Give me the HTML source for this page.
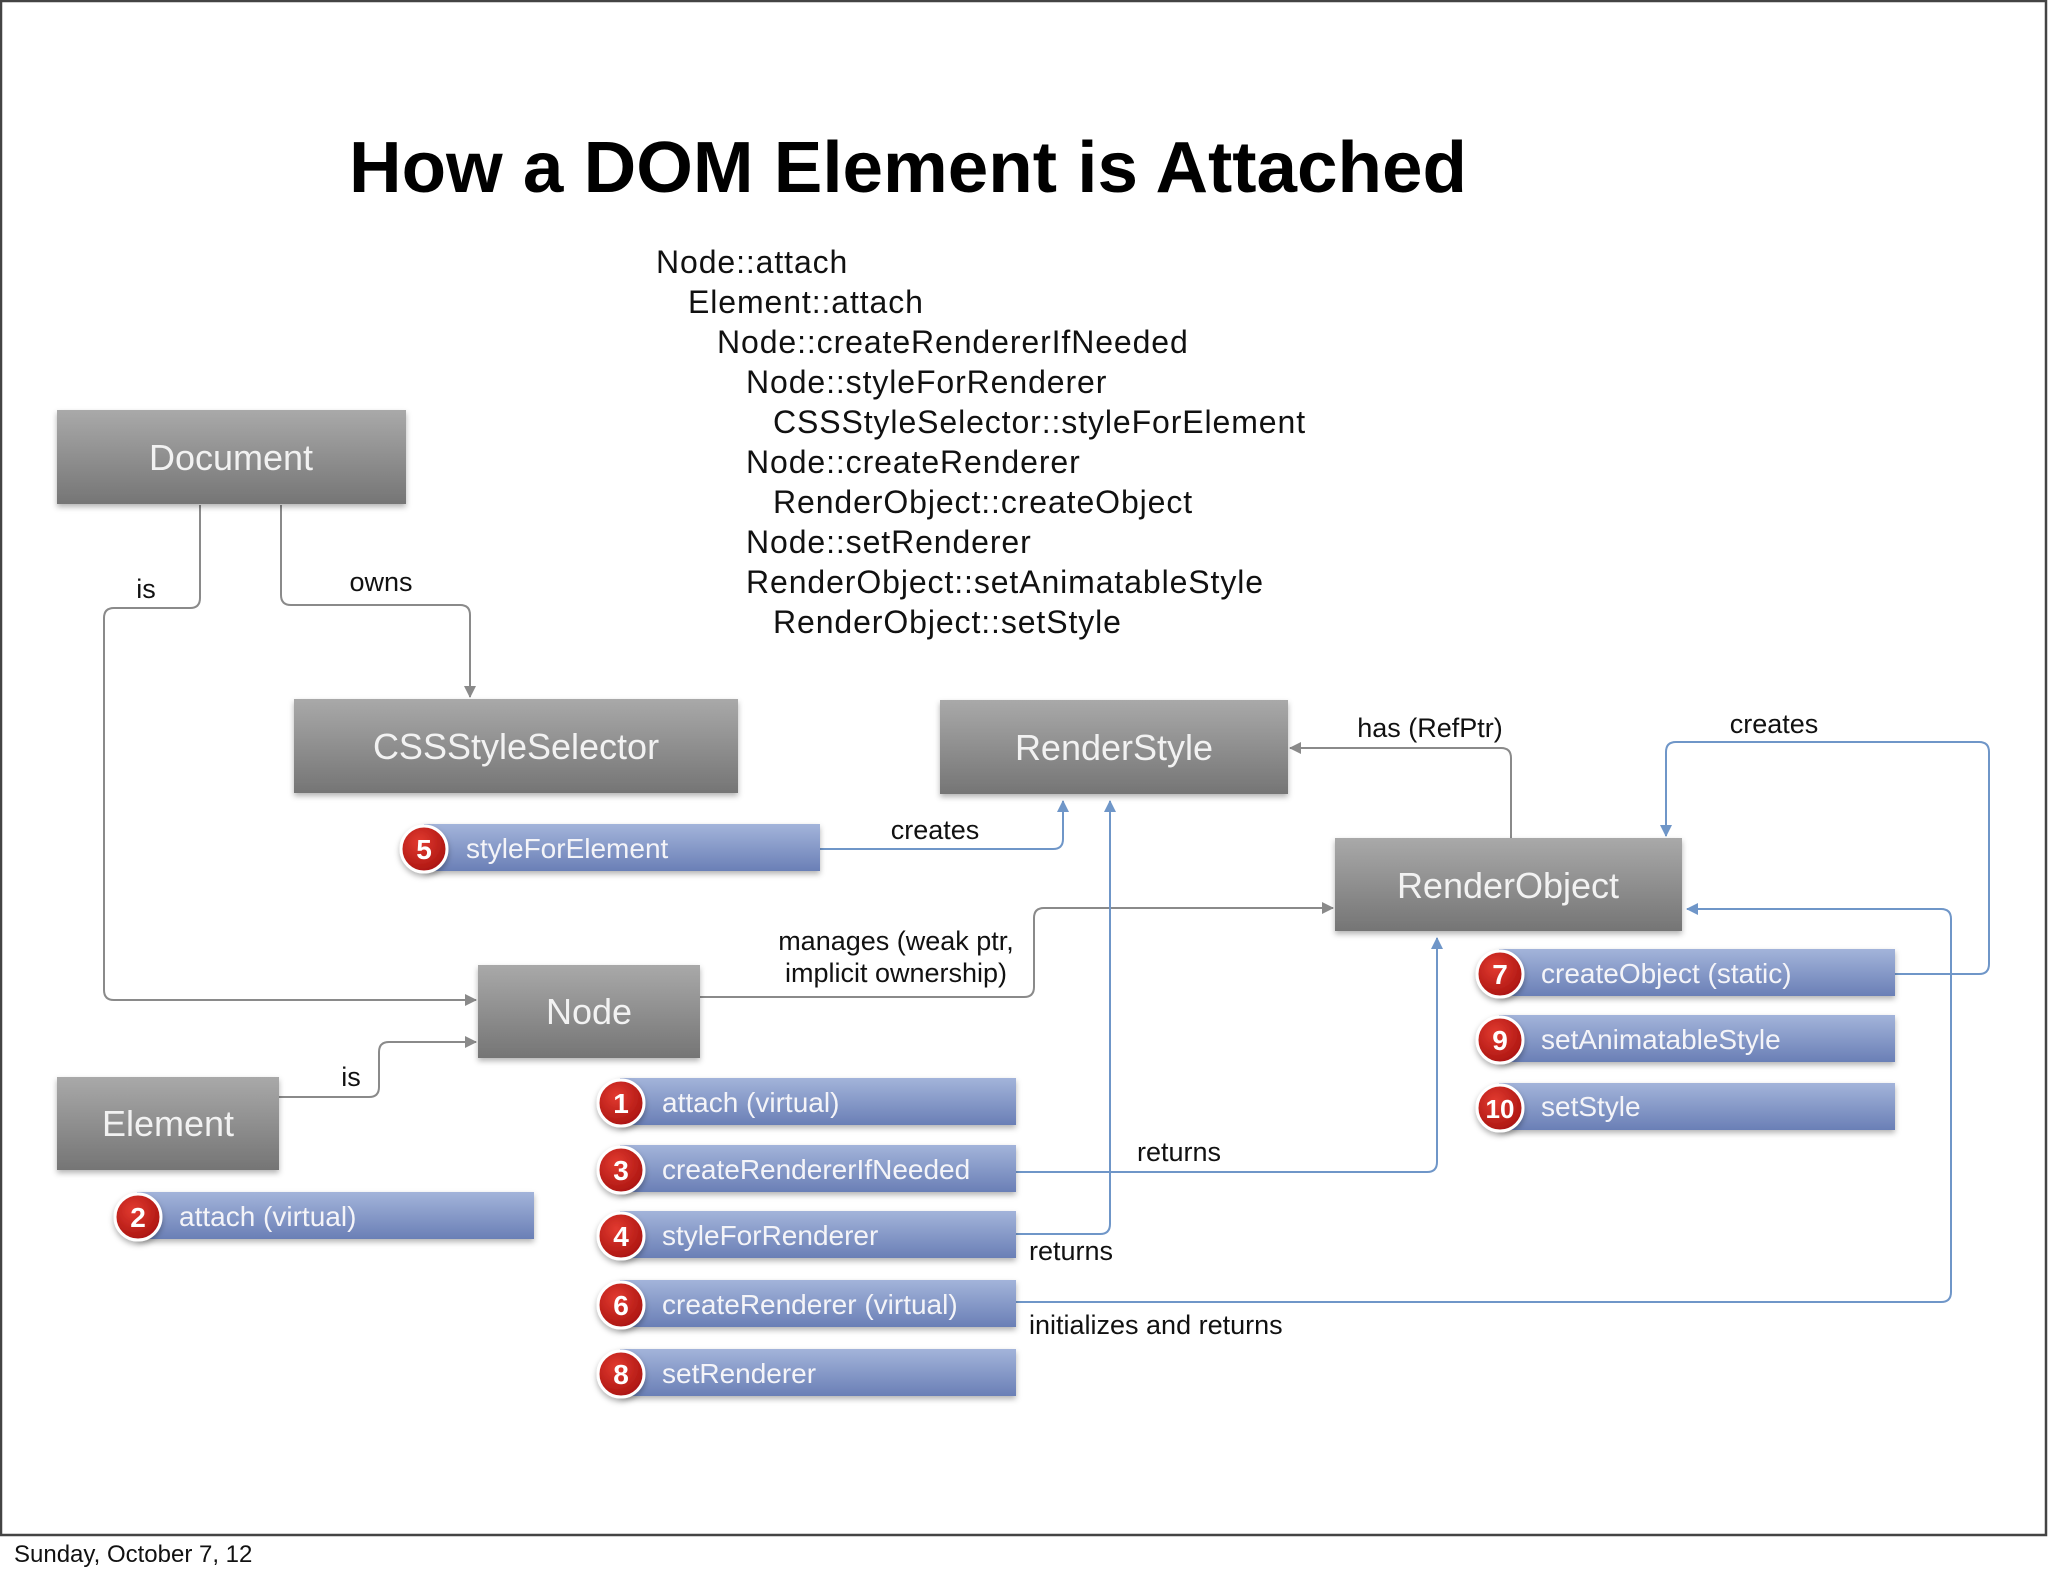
<!DOCTYPE html>
<html><head><meta charset="utf-8"><style>
html,body{margin:0;padding:0;background:#fff}
svg{display:block}
text{font-family:"Liberation Sans",Arial,sans-serif}
</style></head><body>
<svg width="2048" height="1576" viewBox="0 0 2048 1576" xmlns="http://www.w3.org/2000/svg">
<defs>
<linearGradient id="g" x1="0" y1="0" x2="0" y2="1"><stop offset="0" stop-color="#a9a9a9"/><stop offset="1" stop-color="#757575"/></linearGradient>
<linearGradient id="b" x1="0" y1="0" x2="0" y2="1"><stop offset="0" stop-color="#a3b4da"/><stop offset="1" stop-color="#6a7fb6"/></linearGradient>
<radialGradient id="r" cx="0.4" cy="0.35" r="0.7"><stop offset="0" stop-color="#e23a30"/><stop offset="1" stop-color="#a8130f"/></radialGradient>
<marker id="ag" markerWidth="12" markerHeight="12" refX="11" refY="6" orient="auto" markerUnits="userSpaceOnUse"><path d="M0,0 L12,6 L0,12 z" fill="#8a8a8a"/></marker>
<marker id="ab" markerWidth="12" markerHeight="12" refX="11" refY="6" orient="auto" markerUnits="userSpaceOnUse"><path d="M0,0 L12,6 L0,12 z" fill="#6f96c8"/></marker>
<filter id="sh" x="-20%" y="-20%" width="140%" height="160%"><feDropShadow dx="0" dy="3" stdDeviation="3" flood-color="#000" flood-opacity="0.3"/></filter>
</defs>
<rect x="1" y="1" width="2045" height="1534" fill="#fff" stroke="#444" stroke-width="2.5"/>
<text x="14" y="1562" font-size="24" fill="#111">Sunday, October 7, 12</text>

<text x="349" y="192" font-size="72" font-weight="bold" fill="#000" textLength="1118" lengthAdjust="spacingAndGlyphs">How a DOM Element is Attached</text>

<g font-size="32" fill="#111" letter-spacing="0.9">
<text x="656" y="273">Node::attach</text>
<text x="688" y="313">Element::attach</text>
<text x="717" y="353">Node::createRendererIfNeeded</text>
<text x="746" y="393">Node::styleForRenderer</text>
<text x="773" y="433">CSSStyleSelector::styleForElement</text>
<text x="746" y="473">Node::createRenderer</text>
<text x="773" y="513">RenderObject::createObject</text>
<text x="746" y="553">Node::setRenderer</text>
<text x="746" y="593">RenderObject::setAnimatableStyle</text>
<text x="773" y="633">RenderObject::setStyle</text>
</g>

<g fill="none" stroke="#8a8a8a" stroke-width="2">
<path d="M200,505 V598 Q200,608 190,608 H114 Q104,608 104,618 V990 Q104,1000 114,1000 H476" marker-end="url(#ag)"/>
<path d="M281,505 V595 Q281,605 291,605 H460 Q470,605 470,615 V697" marker-end="url(#ag)"/>
<path d="M279,1097 H369 Q379,1097 379,1087 V1052 Q379,1042 389,1042 H476" marker-end="url(#ag)"/>
<path d="M700,997 H1024 Q1034,997 1034,987 V918 Q1034,908 1044,908 H1333" marker-end="url(#ag)"/>
<path d="M1511,838 V758 Q1511,748 1501,748 H1290" marker-end="url(#ag)"/>
</g>
<g fill="none" stroke="#6f96c8" stroke-width="2">
<path d="M820,849 H1053 Q1063,849 1063,839 V801" marker-end="url(#ab)"/>
<path d="M1016,1234 H1100 Q1110,1234 1110,1224 V801" marker-end="url(#ab)"/>
<path d="M1016,1172 H1427 Q1437,1172 1437,1162 V938" marker-end="url(#ab)"/>
<path d="M1016,1302 H1941 Q1951,1302 1951,1292 V919 Q1951,909 1941,909 H1687" marker-end="url(#ab)"/>
<path d="M1895,974 H1979 Q1989,974 1989,964 V752 Q1989,742 1979,742 H1676 Q1666,742 1666,752 V836" marker-end="url(#ab)"/>
</g>
<g font-size="27" fill="#111">
<text x="146" y="598" text-anchor="middle">is</text>
<text x="381" y="591" text-anchor="middle">owns</text>
<text x="351" y="1086" text-anchor="middle">is</text>
<text x="896" y="950" text-anchor="middle">manages (weak ptr,</text>
<text x="896" y="982" text-anchor="middle">implicit ownership)</text>
<text x="1430" y="737" text-anchor="middle">has (RefPtr)</text>
<text x="935" y="839" text-anchor="middle">creates</text>
<text x="1774" y="733" text-anchor="middle">creates</text>
<text x="1179" y="1161" text-anchor="middle">returns</text>
<text x="1071" y="1260" text-anchor="middle">returns</text>
<text x="1029" y="1334">initializes and returns</text>
</g>

<g filter="url(#sh)">
<rect x="57" y="410" width="349" height="94" fill="url(#g)"/>
<rect x="294" y="699" width="444" height="94" fill="url(#g)"/>
<rect x="940" y="700" width="348" height="94" fill="url(#g)"/>
<rect x="1335" y="838" width="347" height="93" fill="url(#g)"/>
<rect x="478" y="965" width="222" height="93" fill="url(#g)"/>
<rect x="57" y="1077" width="222" height="93" fill="url(#g)"/>
</g>
<g font-size="36" fill="#f2f2f2" text-anchor="middle">
<text x="231" y="470">Document</text>
<text x="516" y="759">CSSStyleSelector</text>
<text x="1114" y="760">RenderStyle</text>
<text x="1508" y="898">RenderObject</text>
<text x="589" y="1024">Node</text>
<text x="168" y="1136">Element</text>
</g>

<g filter="url(#sh)">
<rect x="424" y="824" width="396" height="47" fill="url(#b)"/>
<rect x="620" y="1078" width="396" height="47" fill="url(#b)"/>
<rect x="620" y="1145" width="396" height="47" fill="url(#b)"/>
<rect x="620" y="1211" width="396" height="47" fill="url(#b)"/>
<rect x="620" y="1280" width="396" height="47" fill="url(#b)"/>
<rect x="620" y="1349" width="396" height="47" fill="url(#b)"/>
<rect x="137" y="1192" width="397" height="47" fill="url(#b)"/>
<rect x="1499" y="949" width="396" height="47" fill="url(#b)"/>
<rect x="1499" y="1015" width="396" height="47" fill="url(#b)"/>
<rect x="1499" y="1083" width="396" height="47" fill="url(#b)"/>
</g>
<g font-size="28" fill="#f4f4f8">
<text x="466" y="858">styleForElement</text>
<text x="662" y="1112">attach (virtual)</text>
<text x="662" y="1179">createRendererIfNeeded</text>
<text x="662" y="1245">styleForRenderer</text>
<text x="662" y="1314">createRenderer (virtual)</text>
<text x="662" y="1383">setRenderer</text>
<text x="179" y="1226">attach (virtual)</text>
<text x="1541" y="983">createObject (static)</text>
<text x="1541" y="1049">setAnimatableStyle</text>
<text x="1541" y="1116">setStyle</text>
</g>
<g filter="url(#sh)" fill="url(#r)" stroke="#fff" stroke-width="3">
<circle cx="424" cy="849" r="23"/>
<circle cx="621" cy="1103" r="23"/>
<circle cx="621" cy="1170" r="23"/>
<circle cx="621" cy="1236" r="23"/>
<circle cx="621" cy="1305" r="23"/>
<circle cx="621" cy="1374" r="23"/>
<circle cx="138" cy="1217" r="23"/>
<circle cx="1500" cy="974" r="23"/>
<circle cx="1500" cy="1040" r="23"/>
<circle cx="1500" cy="1108" r="23"/>
</g>
<g font-size="28" font-weight="bold" fill="#fff" text-anchor="middle">
<text x="424" y="859">5</text>
<text x="621" y="1113">1</text>
<text x="621" y="1180">3</text>
<text x="621" y="1246">4</text>
<text x="621" y="1315">6</text>
<text x="621" y="1384">8</text>
<text x="138" y="1227">2</text>
<text x="1500" y="984">7</text>
<text x="1500" y="1050">9</text>
<text x="1500" y="1118" font-size="26">10</text>
</g>
</svg>
</body></html>
